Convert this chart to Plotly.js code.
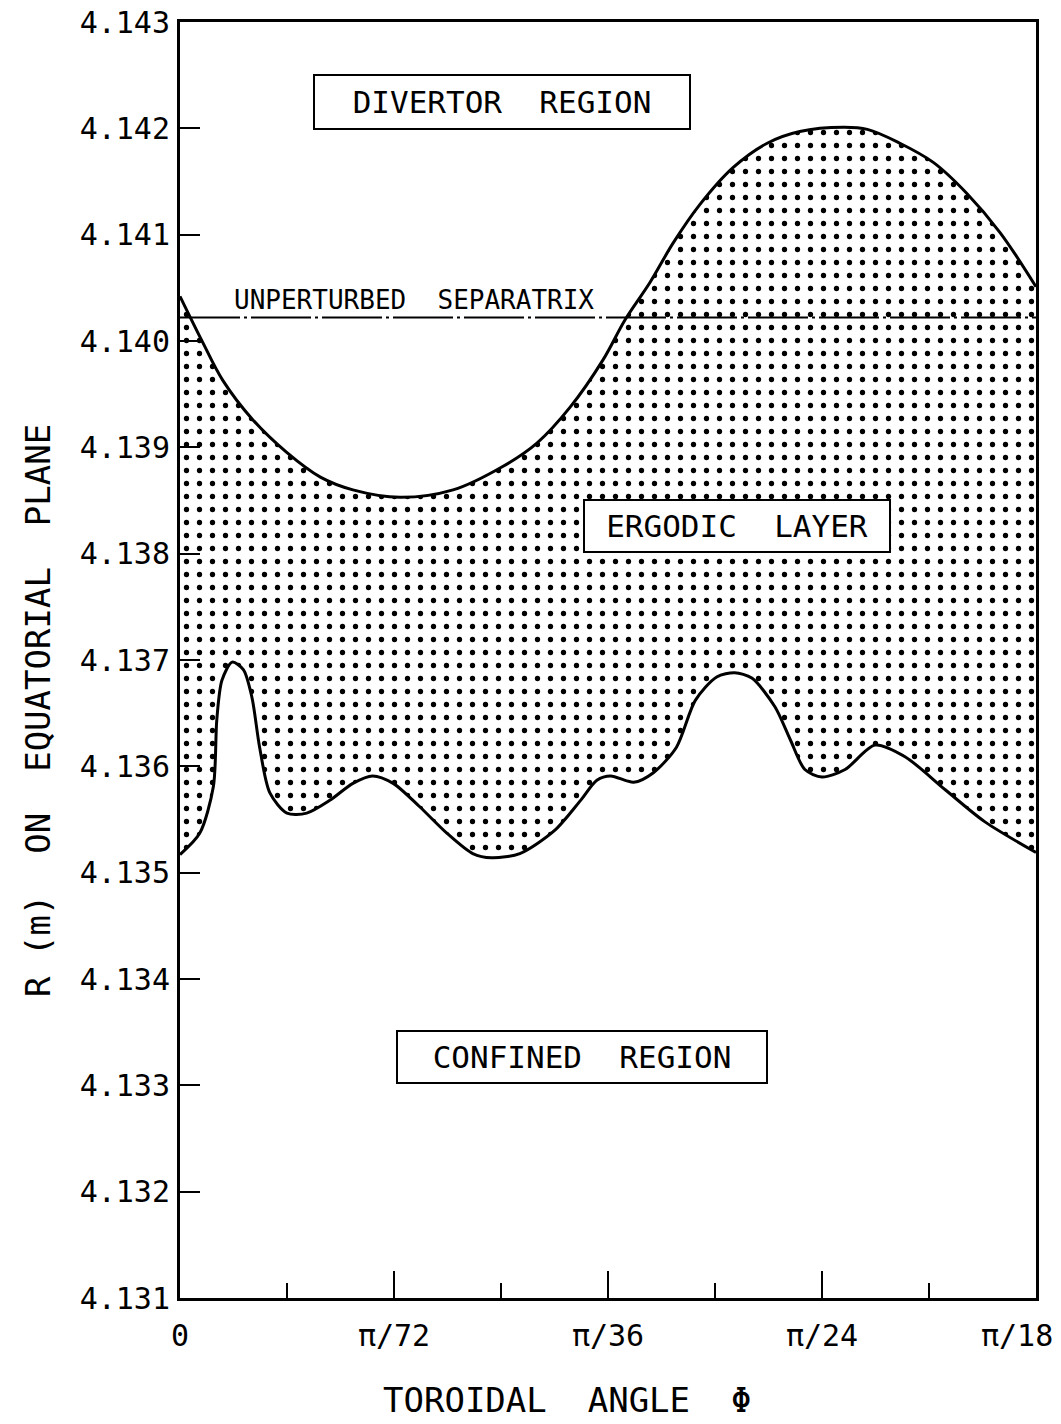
<!DOCTYPE html>
<html>
<head>
<meta charset="utf-8">
<script src="https://cdn.plot.ly/plotly-3.0.1.min.js"></script>
<style>html,body{margin:0;padding:0;background:#fff;}#chart{width:1061px;height:1424px;}</style>
</head>
<body>
<div id="chart"></div>
<script>
// Toroidal angle in degrees (pi/18 = 10 deg)
const upperPhi = [0, 0.27, 0.50, 0.85, 1.25, 1.64, 2.02, 2.57, 3.19, 3.77, 4.17, 4.56, 4.94, 5.20, 5.49, 5.76, 6.07, 6.46, 6.86, 7.24, 7.75, 8.03, 8.41, 8.80, 9.19, 9.58, 10.0];
const upperR   = [4.14042, 4.13998, 4.13963, 4.13926, 4.13895, 4.13872, 4.13860, 4.13853, 4.13860, 4.13882, 4.13904, 4.13938, 4.13982, 4.14020, 4.14055, 4.14092, 4.14128, 4.14163, 4.14186, 4.14197, 4.14201, 4.14199, 4.14186, 4.14168, 4.14139, 4.14102, 4.14051];

const lowerPhi = [0, 0.23, 0.39, 0.43, 0.49, 0.61, 0.74, 0.84, 0.93, 1.05, 1.25, 1.48, 1.75, 2.02, 2.25, 2.49, 2.80, 3.12, 3.42, 3.64, 3.97, 4.38, 4.68, 4.87, 5.03, 5.30, 5.53, 5.80, 6.02, 6.27, 6.48, 6.68, 6.95, 7.13, 7.30, 7.50, 7.77, 8.12, 8.47, 8.94, 9.40, 10.0];
const lowerR   = [4.13517, 4.13537, 4.13581, 4.13644, 4.13681, 4.13698, 4.13691, 4.13665, 4.13618, 4.13575, 4.13556, 4.13556, 4.13568, 4.13584, 4.13591, 4.13584, 4.13562, 4.13537, 4.13518, 4.13514, 4.13518, 4.13540, 4.13568, 4.13587, 4.13591, 4.13585, 4.13594, 4.13618, 4.13662, 4.13684, 4.13688, 4.13683, 4.13656, 4.13625, 4.13597, 4.13590, 4.13597, 4.13620, 4.13609, 4.13578, 4.13548, 4.13519];

const separatrixPhi = [0, 10];
const separatrixR = [4.14022, 4.14022];

const xTickVals = [0, 2.5, 5, 7.5, 10];
const xTickText = ['0', 'π/72', 'π/36', 'π/24', ''];
const xLastTickText = 'π/18';
const xMinorVals = [1.25, 3.75, 6.25, 8.75];
const yTickVals = [4.131, 4.132, 4.133, 4.134, 4.135, 4.136, 4.137, 4.138, 4.139, 4.140, 4.141, 4.142, 4.143];
const yTickText = ['4.131', '4.132', '4.133', '4.134', '4.135', '4.136', '4.137', '4.138', '4.139', '4.140', '4.141', '4.142', '4.143'];

const xTitle = 'TOROIDAL  ANGLE  Φ';
const yTitle = 'R (m)  ON  EQUATORIAL  PLANE';

const FONT = 'DejaVu Sans Mono';

const traces = [
  {
    x: lowerPhi, y: lowerR, type: 'scatter', mode: 'lines',
    line: {color: 'black', width: 3, shape: 'spline', smoothing: 0.8},
    hoverinfo: 'skip', showlegend: false
  },
  {
    x: upperPhi, y: upperR, type: 'scatter', mode: 'lines',
    line: {color: 'black', width: 3, shape: 'spline', smoothing: 1},
    fill: 'tonexty', fillcolor: 'white',
    fillpattern: {shape: '.', size: 13, solidity: 0.13, fgcolor: 'black', bgcolor: 'white', fillmode: 'replace'},
    hoverinfo: 'skip', showlegend: false
  },
  {
    x: separatrixPhi, y: separatrixR, type: 'scatter', mode: 'lines',
    line: {color: 'black', width: 2, dash: '60px,4px,3px,4px'},
    hoverinfo: 'skip', showlegend: false
  }
];

const layout = {
  width: 1061, height: 1424,
  margin: {l: 180, r: 25, t: 22, b: 126},
  paper_bgcolor: 'white', plot_bgcolor: 'white',
  font: {family: FONT, size: 30, color: 'black'},
  showlegend: false,
  xaxis: {
    range: [0, 10], showgrid: false, zeroline: false,
    showline: true, mirror: true, linecolor: 'black', linewidth: 3,
    tickmode: 'array', tickvals: xTickVals, ticktext: xTickText,
    ticks: 'inside', ticklen: 27, tickwidth: 2, tickcolor: 'black',
    ticklabelstandoff: 9,
    minor: {tickmode: 'array', tickvals: xMinorVals, ticks: 'inside', ticklen: 15, tickwidth: 2, tickcolor: 'black', showgrid: false},
    tickfont: {family: FONT, size: 30, color: 'black'}
  },
  yaxis: {
    range: [4.131, 4.143], showgrid: false, zeroline: false,
    showline: true, mirror: true, linecolor: 'black', linewidth: 3,
    tickmode: 'array', tickvals: yTickVals, ticktext: yTickText,
    ticks: 'inside', ticklen: 20, tickwidth: 2, tickcolor: 'black',
    ticklabelstandoff: 1,
    tickfont: {family: FONT, size: 30, color: 'black'}
  },
  annotations: [
    {x: 3.76, y: 4.14225, xref: 'x', yref: 'y', text: 'DIVERTOR  REGION', showarrow: false,
     font: {family: FONT, size: 31, color: 'black'}, bgcolor: 'white', bordercolor: 'black', borderwidth: 2, borderpad: 0, width: 374, height: 52},
    {x: 6.51, y: 4.13826, xref: 'x', yref: 'y', text: 'ERGODIC  LAYER', showarrow: false,
     font: {family: FONT, size: 31, color: 'black'}, bgcolor: 'white', bordercolor: 'black', borderwidth: 2, borderpad: 0, width: 304, height: 50},
    {x: 4.70, y: 4.13327, xref: 'x', yref: 'y', text: 'CONFINED  REGION', showarrow: false,
     font: {family: FONT, size: 31, color: 'black'}, bgcolor: 'white', bordercolor: 'black', borderwidth: 2, borderpad: 0, width: 368, height: 50},
    {x: 2.73, y: 4.14039, xref: 'x', yref: 'y', text: 'UNPERTURBED  SEPARATRIX', showarrow: false,
     font: {family: FONT, size: 26, color: 'black'}},
    {x: xTickVals[4], y: -0.029, xref: 'x', yref: 'paper', text: xLastTickText, showarrow: false,
     xanchor: 'right', yanchor: 'middle', xshift: 19, font: {family: FONT, size: 30, color: 'black'}},
    {x: 0.452, y: -0.0799, xref: 'paper', yref: 'paper', text: xTitle, showarrow: false,
     xanchor: 'center', yanchor: 'middle', font: {family: FONT, size: 34, color: 'black'}},
    {x: -0.1659, y: 0.4608, xref: 'paper', yref: 'paper', text: yTitle, showarrow: false, textangle: -90,
     xanchor: 'center', yanchor: 'middle', font: {family: FONT, size: 34, color: 'black'}}
  ]
};

Plotly.newPlot('chart', traces, layout, {staticPlot: true, displayModeBar: false});
</script>
</body>
</html>
